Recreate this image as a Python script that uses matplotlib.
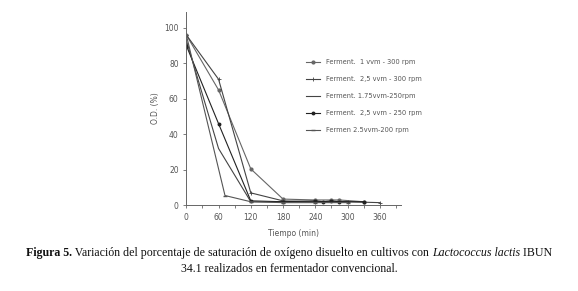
import matplotlib
matplotlib.use("Agg")
import matplotlib.pyplot as plt

# data
t1 = [0, 60, 120, 180, 240, 270, 285, 330]
od1 = [96, 65, 20.5, 3.5, 3, 3, 3, 2]
t2 = [0, 60, 120, 180, 240, 300, 360]
od2 = [96, 71, 7, 2.5, 2, 2, 1.5]
t3 = [0, 60, 120, 180, 240, 300]
od3 = [93, 32, 2, 2, 2, 2]
t4 = [0, 60, 120, 180, 240, 255, 270, 285, 330]
od4 = [90, 46, 2.5, 2, 2.5, 2, 2.5, 2, 2]
t5 = [0, 72, 120, 180, 240, 300]
od5 = [96, 5.5, 2, 1.5, 1.5, 1.5]

labels = ["Ferment.  1 vvm - 300 rpm", "Ferment.  2,5 vvm - 300 rpm",
          "Ferment. 1.75vvm-250rpm", "Ferment.  2,5 vvm - 250 rpm",
          "Fermen 2.5vvm-200 rpm"]
xticks = [0, 60, 120, 180, 240, 300, 360]
yticks = [0, 20, 40, 60, 80, 100]

sans = ['Liberation Sans Narrow', 'DejaVu Sans']
serif = ['Liberation Serif', 'DejaVu Serif']
gray = '#555555'

fig = plt.figure(figsize=(5.78, 2.91), dpi=100)
ax = fig.add_axes([0.3223, 0.2945, 0.372, 0.665])

ax.plot(t1, od1, color='#666666', lw=0.8, marker='o', ms=2, label=labels[0])
ax.plot(t2, od2, color='#444444', lw=0.8, marker='+', ms=3, mew=0.6, label=labels[1])
ax.plot(t3, od3, color='#444444', lw=0.8, label=labels[2])
ax.plot(t4, od4, color='#222222', lw=0.8, marker='o', ms=1.8, label=labels[3])
ax.plot(t5, od5, color='#555555', lw=0.8, marker='_', ms=3, label=labels[4])

ax.set_xlim(0, 400)
ax.set_ylim(0, 109)
ax.set_xticks(xticks)
ax.set_yticks(yticks)
ax.set_xticks(range(30, 400, 60), minor=True)
for s in ['top', 'right']:
    ax.spines[s].set_visible(False)
for s in ['left', 'bottom']:
    ax.spines[s].set_color('#666666')
    ax.spines[s].set_linewidth(0.7)
ax.tick_params(which='both', color='#666666', width=0.6, length=2.5,
               labelsize=5.5, labelcolor=gray, pad=3)
for lab in ax.get_xticklabels() + ax.get_yticklabels():
    lab.set_family(sans)

ax.set_xlabel('Tiempo (min)', fontsize=5.5, color=gray, family=sans, labelpad=5)
ax.set_ylabel('O.D. (%)', fontsize=5.5, color=gray, family=sans, labelpad=3)

leg = ax.legend(loc='center left', bbox_to_anchor=(0.555, 0.565), frameon=False,
                prop={'family': sans, 'size': 4.8}, labelspacing=1.65,
                handlelength=2.1, handletextpad=1.0, borderpad=0,
                borderaxespad=0)
for txt in leg.get_texts():
    txt.set_color(gray)

# caption, drawn piece by piece so bold / italic parts sit inline
def caption_line(parts, y, fs=8.6):
    r = fig.canvas.get_renderer()
    objs = []
    for s, w, st in parts:
        objs.append(fig.text(0, y, s, fontsize=fs, family=serif, weight=w,
                             style=st, color='#111111', va='baseline'))
    widths = [o.get_window_extent(r).width for o in objs]
    total = sum(widths)
    x = (fig.bbox.width - total) / 2
    for o, w in zip(objs, widths):
        o.set_x(x / fig.bbox.width)
        x += w

caption_line([("Figura 5.", 'bold', 'normal'),
              (" Variación del porcentaje de saturación de oxígeno disuelto en cultivos con ", 'normal', 'normal'),
              ("Lactococcus lactis", 'normal', 'italic'),
              (" IBUN", 'normal', 'normal')], 1 - 256 / 291)
caption_line([("34.1 realizados en fermentador convencional.", 'normal', 'normal')], 1 - 272 / 291)

fig.savefig('out.png', dpi=100)
